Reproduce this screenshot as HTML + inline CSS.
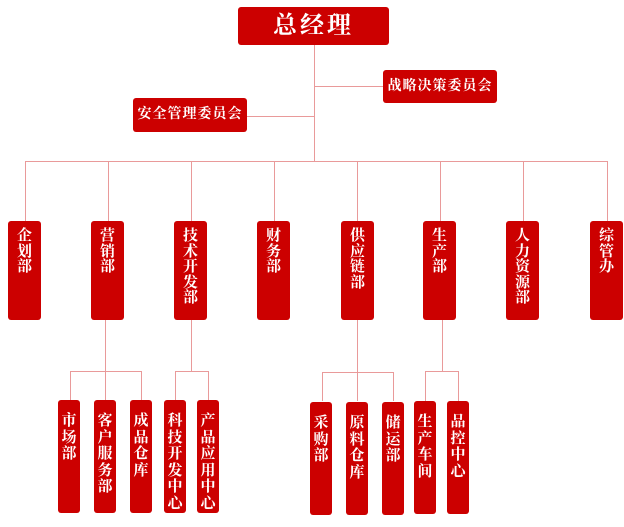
<!DOCTYPE html>
<html><head><meta charset="utf-8"><style>
body{margin:0;width:624px;height:527px;background:#fff;position:relative;overflow:hidden;font-family:"Liberation Serif","Noto Serif CJK SC",serif;}
.b{position:absolute;background:#cc0000;color:#fff;font-weight:bold;border-radius:3px;text-align:center;}
.l{position:absolute;background:#e99a9a;}
.t{width:33px;top:221px;height:99px;font-size:15px;line-height:15.5px;padding-top:8px;box-sizing:border-box;}
.s{width:22px;height:113px;font-size:15px;line-height:16.5px;padding-top:13px;box-sizing:border-box;}
.h{height:1px}.v{width:1px}
</style></head><body>
<div class="b" style="left:238px;top:7px;width:151px;height:38px;font-size:24px;line-height:38px;letter-spacing:3px;">总经理</div>
<div class="b" style="left:383px;top:70px;width:114px;height:33px;font-size:14px;line-height:33px;letter-spacing:1px;">战略决策委员会</div>
<div class="b" style="left:133px;top:98px;width:114px;height:34px;font-size:14px;line-height:34px;letter-spacing:1px;">安全管理委员会</div>
<div class="l v" style="left:314px;top:45px;height:116px"></div>
<div class="l h" style="left:314px;top:86px;width:69px"></div>
<div class="l h" style="left:247px;top:116px;width:67px"></div>
<div class="l h" style="left:25px;top:161px;width:583px"></div>
<div class="l v" style="left:25px;top:161px;height:60px"></div>
<div class="l v" style="left:108px;top:161px;height:60px"></div>
<div class="l v" style="left:191px;top:161px;height:60px"></div>
<div class="l v" style="left:274px;top:161px;height:60px"></div>
<div class="l v" style="left:357px;top:161px;height:60px"></div>
<div class="l v" style="left:440px;top:161px;height:60px"></div>
<div class="l v" style="left:523px;top:161px;height:60px"></div>
<div class="l v" style="left:607px;top:161px;height:60px"></div>
<div class="b t" style="left:8px">企<br>划<br>部</div>
<div class="b t" style="left:91px">营<br>销<br>部</div>
<div class="b t" style="left:174px">技<br>术<br>开<br>发<br>部</div>
<div class="b t" style="left:257px">财<br>务<br>部</div>
<div class="b t" style="left:341px">供<br>应<br>链<br>部</div>
<div class="b t" style="left:423px">生<br>产<br>部</div>
<div class="b t" style="left:506px">人<br>力<br>资<br>源<br>部</div>
<div class="b t" style="left:590px">综<br>管<br>办</div>
<div class="l v" style="left:105px;top:320px;height:80px"></div>
<div class="l h" style="left:70px;top:371px;width:71px"></div>
<div class="l v" style="left:70px;top:371px;height:29px"></div>
<div class="l v" style="left:141px;top:371px;height:29px"></div>
<div class="l v" style="left:191px;top:320px;height:51px"></div>
<div class="l h" style="left:175px;top:371px;width:33px"></div>
<div class="l v" style="left:175px;top:371px;height:29px"></div>
<div class="l v" style="left:208px;top:371px;height:29px"></div>
<div class="l v" style="left:357px;top:320px;height:81px"></div>
<div class="l h" style="left:322px;top:372px;width:71px"></div>
<div class="l v" style="left:322px;top:372px;height:29px"></div>
<div class="l v" style="left:393px;top:372px;height:29px"></div>
<div class="l v" style="left:442px;top:320px;height:51px"></div>
<div class="l h" style="left:425px;top:371px;width:33px"></div>
<div class="l v" style="left:425px;top:371px;height:30px"></div>
<div class="l v" style="left:458px;top:371px;height:30px"></div>
<div class="b s" style="left:58px;top:400px">市<br>场<br>部</div>
<div class="b s" style="left:94px;top:400px">客<br>户<br>服<br>务<br>部</div>
<div class="b s" style="left:130px;top:400px">成<br>品<br>仓<br>库</div>
<div class="b s" style="left:164px;top:400px">科<br>技<br>开<br>发<br>中<br>心</div>
<div class="b s" style="left:197px;top:400px">产<br>品<br>应<br>用<br>中<br>心</div>
<div class="b s" style="left:310px;top:402px">采<br>购<br>部</div>
<div class="b s" style="left:346px;top:402px">原<br>料<br>仓<br>库</div>
<div class="b s" style="left:382px;top:402px">储<br>运<br>部</div>
<div class="b s" style="left:414px;top:401px">生<br>产<br>车<br>间</div>
<div class="b s" style="left:447px;top:401px">品<br>控<br>中<br>心</div>
</body></html>
